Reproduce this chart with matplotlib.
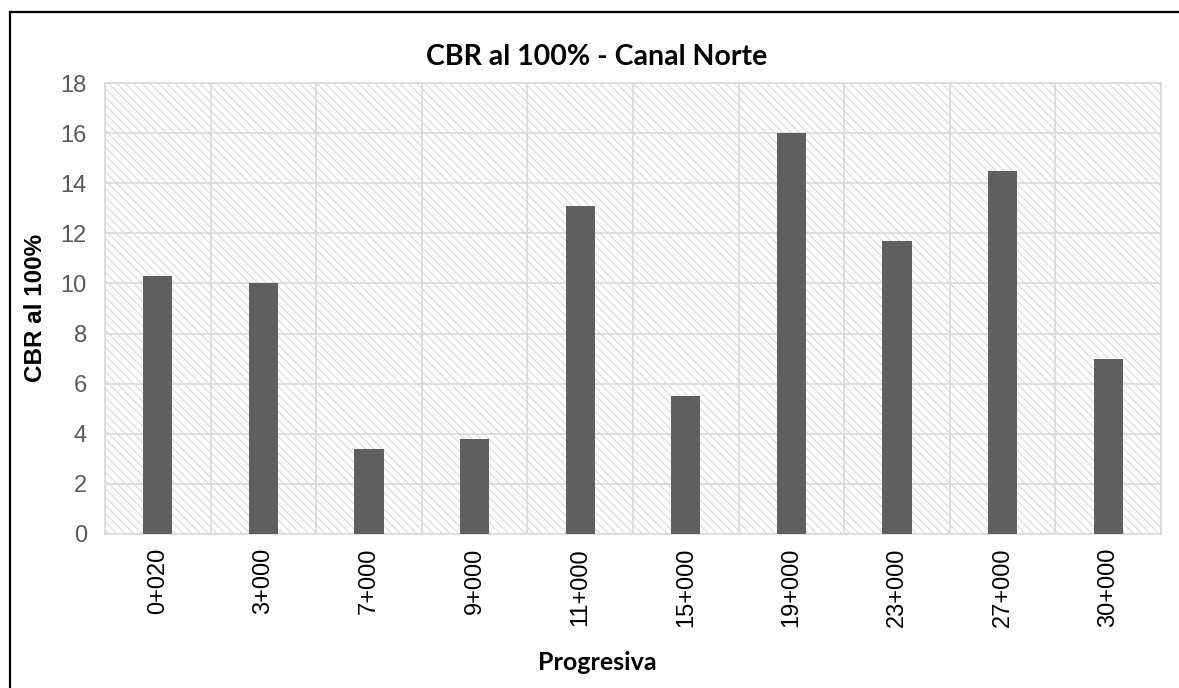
import matplotlib
matplotlib.use("Agg")
import matplotlib.pyplot as plt
from matplotlib.patches import Rectangle
from matplotlib.lines import Line2D

progresivas = ['0+020', '3+000', '7+000', '9+000', '11+000',
               '15+000', '19+000', '23+000', '27+000', '30+000']
cbr = [10.3, 10.0, 3.4, 3.8, 13.1, 5.5, 16.0, 11.7, 14.5, 7.0]
yticks = [0, 2, 4, 6, 8, 10, 12, 14, 16, 18]

grid_c = '#d9d9d9'
plt.rcParams['hatch.linewidth'] = 0.8

fig = plt.figure(figsize=(11.79, 6.88), dpi=100)
ax = fig.add_axes([105/1179, 1 - 534/688, (1161-105)/1179, (534-83)/688])

# fondo rayado del área de trazado
ax.patch.set_facecolor('white')
ax.add_patch(Rectangle((0, 0), 1, 1, transform=ax.transAxes, facecolor='white',
                       edgecolor=grid_c, hatch='\\\\\\\\', lw=0, zorder=0))

x = range(len(progresivas))
ax.bar(x, cbr, width=0.275, color='#5f5f5f', zorder=3)

ax.set_xlim(-0.5, len(progresivas) - 0.5)
ax.set_ylim(0, 18)
ax.set_yticks(yticks)
ax.set_xticks(list(x))
ax.set_xticklabels(progresivas, rotation=90, fontsize=17,
                   family='Liberation Sans', color='black')
for lab in ax.get_yticklabels():
    lab.set_fontsize(17)
    lab.set_family('Liberation Sans')
    lab.set_color('#595959')
ax.tick_params(axis='both', length=0)
ax.tick_params(axis='y', pad=13)
ax.tick_params(axis='x', pad=10)

# cuadrícula
for y in yticks:
    ax.axhline(y, color=grid_c, lw=1.2, zorder=1)
for i in range(len(progresivas) + 1):
    ax.axvline(i - 0.5, color=grid_c, lw=1.2, zorder=1)
for s in ax.spines.values():
    s.set_color(grid_c)
    s.set_linewidth(1.2)

fig.text(597/1179, 1 - 57/688, 'CBR al 100% - Canal Norte', ha='center', va='center',
         fontsize=20.5, fontweight='bold', family='Lato')
fig.text(597/1179, 1 - 662/688, 'Progresiva', ha='center', va='center',
         fontsize=18, fontweight='bold', family='Lato')
fig.text(36/1179, 1 - 308/688, 'CBR al 100%', ha='center', va='center', rotation=90,
         fontsize=17.5, fontweight='bold', family='Liberation Sans')

# borde del gráfico (solo arriba e izquierda visibles)
fig.add_artist(Line2D([10/1179, 1], [1 - 12/688, 1 - 12/688], color='black', lw=1.6,
                      transform=fig.transFigure))
fig.add_artist(Line2D([10/1179, 10/1179], [0, 1 - 12/688], color='black', lw=1.6,
                      transform=fig.transFigure))

fig.savefig('out.png', dpi=100)
